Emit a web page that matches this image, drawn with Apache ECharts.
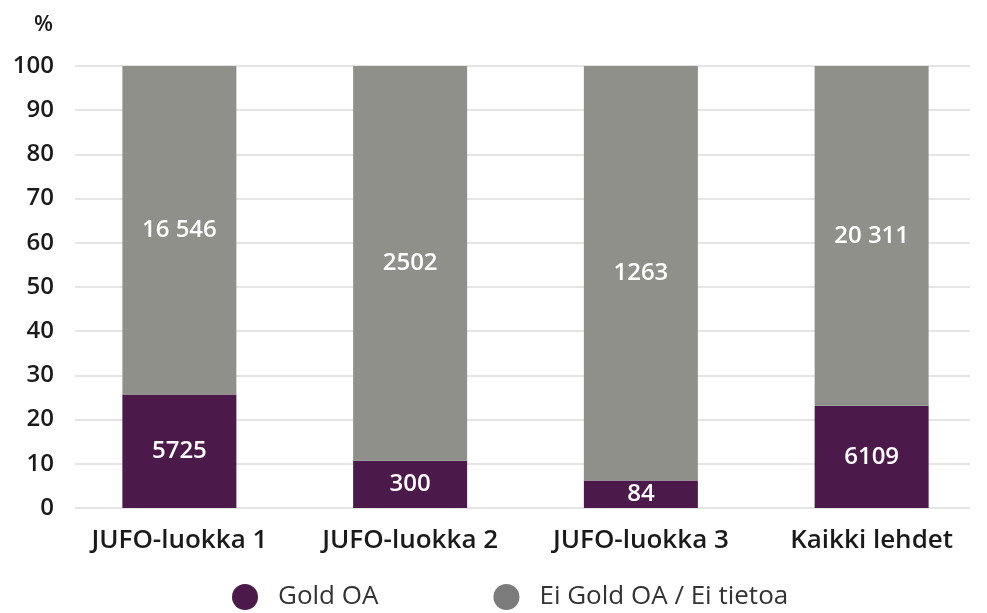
<!DOCTYPE html>
<html>
<head>
<meta charset="utf-8">
<script src="https://cdn.jsdelivr.net/npm/echarts@6/dist/echarts.min.js"></script>
<style>
  html, body { margin: 0; padding: 0; background: #fff; }
  #chart { width: 987px; height: 613px; }
</style>
</head>
<body>
<div id="chart"></div>
<script>
// luokat ja julkaisumäärät
var categories = ['JUFO-luokka 1', 'JUFO-luokka 2', 'JUFO-luokka 3', 'Kaikki lehdet'];
var goldCounts = [5725, 300, 84, 6109];
var otherCounts = [16546, 2502, 1263, 20311];
var seriesNames = ['Gold OA', 'Ei Gold OA / Ei tietoa'];

var font = '"Open Sans", "Noto Sans", sans-serif';

// osuus prosentteina (100 % pinottu pylväs)
function share(a, b) {
  return a.map(function (v, i) { return 100 * v / (v + b[i]); });
}
// suomalainen tapa: välilyönti vasta viisinumeroisissa
function fmt(n) {
  return n >= 10000 ? String(n).replace(/\B(?=(\d{3})+(?!\d))/g, ' ') : String(n);
}

var goldData = share(goldCounts, otherCounts).map(function (v, i) {
  return { value: v, count: goldCounts[i] };
});
var otherData = share(otherCounts, goldCounts).map(function (v, i) {
  return { value: v, count: otherCounts[i] };
});

var myChart = echarts.init(document.getElementById('chart'));

var labelStyle = {
  show: true,
  position: 'inside',
  color: '#fff',
  fontFamily: font,
  fontSize: 24,
  fontWeight: 600,
  formatter: function (p) { return fmt(p.data.count); }
};

var option = {
  animation: false,
  legend: {
    bottom: -2,
    left: 227,
    itemGap: 115,
    itemWidth: 26,
    itemHeight: 26,
    icon: 'circle',
    textStyle: { color: '#333', fontFamily: font, fontSize: 26, padding: [0, 0, 0, 15] },
    data: [
      { name: seriesNames[0], itemStyle: { color: '#4b1a4a' } },
      { name: seriesNames[1], itemStyle: { color: '#7b7b7b' } }
    ]
  },
  grid: [
    { left: 64, right: -7, top: 66, bottom: 105 },
    { left: 75, right: 17, top: 66, bottom: 105 }
  ],
  xAxis: [
    {
      gridIndex: 0,
      type: 'category',
      data: categories,
      axisLine: { show: false },
      axisTick: { show: false },
      axisLabel: { margin: 20, color: '#1a1a1a', fontFamily: font, fontSize: 26, fontWeight: 600 }
    },
    { gridIndex: 1, type: 'value', show: false, min: 0, max: 1 }
  ],
  yAxis: [
    {
      gridIndex: 0,
      type: 'value',
      min: 0, max: 100, interval: 10,
      splitLine: { show: false },
      axisLine: { show: false },
      axisTick: { show: false },
      axisLabel: { show: false }
    },
    {
      gridIndex: 1,
      type: 'value',
      min: 0, max: 100, interval: 10,
      name: '%',
      nameLocation: 'end',
      nameGap: 30,
      nameTextStyle: { color: '#1a1a1a', fontFamily: font, fontSize: 22, fontWeight: 600, align: 'right', padding: [0, 22, 0, 0] },
      splitLine: { show: true, lineStyle: { color: '#dcdcdc', width: 1.5 } },
      axisLine: { show: false },
      axisTick: { show: false },
      axisLabel: { margin: 21, color: '#1a1a1a', fontFamily: font, fontSize: 24, fontWeight: 600 }
    }
  ],
  series: [
    {
      name: seriesNames[0],
      type: 'bar',
      stack: 'osuus',
      xAxisIndex: 0,
      yAxisIndex: 0,
      barWidth: 114,
      z: 3,
      itemStyle: { color: '#4b1a4a' },
      label: labelStyle,
      data: goldData
    },
    {
      name: seriesNames[1],
      type: 'bar',
      stack: 'osuus',
      xAxisIndex: 0,
      yAxisIndex: 0,
      barWidth: 114,
      z: 3,
      itemStyle: { color: '#8f908a' },
      label: labelStyle,
      data: otherData
    }
  ]
};

myChart.setOption(option);
</script>
</body>
</html>
